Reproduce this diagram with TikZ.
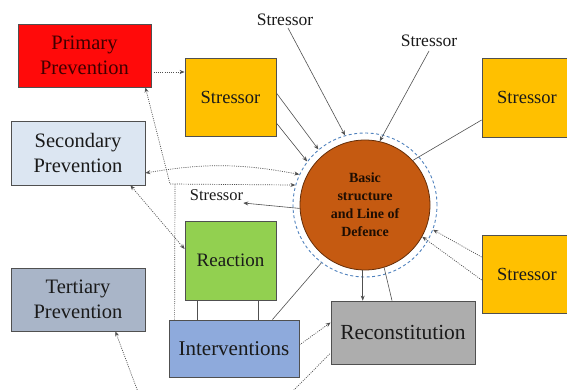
\documentclass[tikz,border=0pt]{standalone}
\usepackage{fontspec}
\setmainfont{Liberation Serif}
\usetikzlibrary{arrows.meta,calc}
\definecolor{cRed}{HTML}{FF0A0A}
\definecolor{cYel}{HTML}{FFC000}
\definecolor{cSec}{HTML}{DCE6F2}
\definecolor{cTer}{HTML}{A9B5C8}
\definecolor{cGrn}{HTML}{92D050}
\definecolor{cInt}{HTML}{8EAADC}
\definecolor{cRec}{HTML}{ADADAD}
\definecolor{cCirc}{HTML}{C55A11}
\definecolor{cRing}{HTML}{4F81BD}
\definecolor{cLine}{HTML}{505050}
\definecolor{cTxt}{HTML}{1A1A1A}
\tikzset{
  box/.style={draw=cLine, line width=0.8pt, rectangle, align=center, font=\fontsize{20.5}{25}\selectfont, text=cTxt, inner sep=0pt},
  lbl/.style={font=\fontsize{17.5}{21}\selectfont, text=cTxt, inner sep=1pt},
  tip/.style={-{Stealth[length=5pt,width=4pt]}},
  twotip/.style={{Stealth[length=5pt,width=4pt]}-{Stealth[length=5pt,width=4pt]}},
  solidln/.style={draw=cLine, line width=0.6pt},
  dotln/.style={draw=cLine, line width=0.7pt, dash pattern=on 1pt off 1.2pt},
}
\begin{document}
\begin{tikzpicture}[x=1pt,y=-1pt]
\useasboundingbox (0,0) rectangle (567,390);
% boxes
\node[box, fill=cRed, text=black!75!red, minimum width=133pt, minimum height=63pt] (prim) at (84.5,55.5) {Primary\\Prevention};
\node[box, fill=cYel, minimum width=91pt, minimum height=78pt, font=\fontsize{18.5}{22}\selectfont] (sY1) at (230.5,97) {Stressor};
\node[box, fill=cSec, minimum width=134pt, minimum height=64pt] (sec) at (78,153) {Secondary\\Prevention};
\node[box, fill=cTer, minimum width=134pt, minimum height=63pt] (ter) at (78,299.5) {Tertiary\\Prevention};
\node[box, fill=cGrn, minimum width=91pt, minimum height=79pt, font=\fontsize{19}{22}\selectfont] (react) at (230.5,260.5) {Reaction};
\node[box, fill=cInt, minimum width=130pt, minimum height=57pt, font=\fontsize{21}{24}\selectfont] (interv) at (234,348.5) {Interventions};
\node[box, fill=cRec, minimum width=144pt, minimum height=63pt, font=\fontsize{21.5}{24}\selectfont] (recon) at (403,332.5) {Reconstitution};
\node[box, fill=cYel, minimum width=90pt, minimum height=79pt, font=\fontsize{18.5}{22}\selectfont] (sTR) at (527,97.5) {Stressor};
\node[box, fill=cYel, minimum width=90pt, minimum height=78pt, font=\fontsize{18.5}{22}\selectfont] (sBR) at (527,274) {Stressor};
% circle
\node[circle, draw=cRing, line width=0.9pt, dash pattern=on 3pt off 2.5pt, minimum size=144pt, inner sep=0pt] (ring) at (365,205) {};
\node[circle, draw=black!50!cCirc, fill=cCirc, line width=0.8pt, minimum size=130pt, inner sep=0pt, align=center, font=\bfseries\fontsize{14}{18}\selectfont, text=black!85!cCirc] (c) at (365,205) {Basic\\structure\\and Line of\\Defence};
% labels
\node[lbl] (lblA) at (285,20) {Stressor};
\node[lbl] (lblB) at (429,41) {Stressor};
\node[lbl, font=\fontsize{16.5}{20}\selectfont] (lblC) at (216.5,195) {Stressor};
% free-end coordinates
\coordinate (jn) at (170,184);
\coordinate (jn2) at (175,184);
\coordinate (fe1) at (292,392);
\coordinate (fe2) at (138,392);
% solid connectors
\draw[solidln, tip] ([xshift=3pt,yshift=-8pt]lblA.center) -- (ring.106);
\draw[solidln, tip] ([yshift=-10pt]lblB.center) -- (c.77);
\draw[solidln, tip] ([yshift=4pt]sY1.east) -- (ring.130);
\draw[solidln, tip] ([yshift=-26pt]sY1.east) -- (ring.143);
\draw[solidln] ([yshift=-22.5pt]sTR.west) -- (c.43);
\draw[solidln, tip] (c.183) -- ([yshift=-8pt,xshift=-1pt]lblC.east);
\draw[solidln] ([xshift=13pt]react.south west) -- ([xshift=13pt]react.south west |- interv.north);
\draw[solidln] ([xshift=-18pt]react.south east) -- ([xshift=-18pt]react.south east |- interv.north);
\draw[solidln] ([xshift=-27pt]interv.north east) -- (ring.233);
\draw[solidln, tip] (c.268) -- (c.268 |- recon.north);
\draw[solidln] (c.287) -- ([xshift=-11pt]recon.north);
% dotted connectors
\draw[dotln, tip] ([yshift=-16.5pt]prim.east) -- ([yshift=-16.5pt]prim.east -| sY1.west);
\draw[dotln, twotip] ([yshift=-20pt]sec.east) to[bend left=10] (ring.155);
\draw[dotln, twotip] ([xshift=-6pt]prim.south east) -- (jn) -- (ring.164);
\draw[dotln] ([xshift=6pt]interv.north west) -- (jn2);
\draw[dotln, twotip] ([xshift=-15pt]sec.south east) -- ([yshift=11.5pt]react.west);
\draw[dotln, tip] ([yshift=3.5pt]interv.east) -- ([yshift=10pt]recon.west);
\draw[dotln] (fe1) -- ([yshift=-20.5pt]recon.west);
\draw[dotln, tip] (fe2) -- ([xshift=-30pt]ter.south east);
\draw[dotln, tip] ([yshift=17pt]sBR.west) -- (ring.340);
\draw[dotln, tip] ([yshift=-6pt]sBR.west) -- (c.331);
\end{tikzpicture}
\end{document}
